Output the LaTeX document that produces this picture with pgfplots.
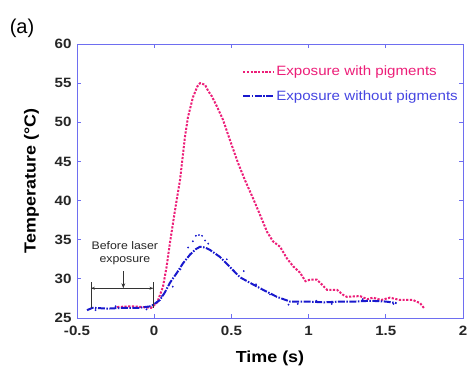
\documentclass[border=0pt]{standalone}
\usepackage{pgfplots}
\pgfplotsset{compat=1.18}
\usepackage{fontspec}
\setmainfont{Liberation Sans}
\newfontfamily\stretchfont[FakeStretch=1.12]{Liberation Sans}
\usetikzlibrary{arrows.meta}
\definecolor{pinkc}{RGB}{236,30,120}
\definecolor{bluec}{RGB}{25,25,205}
\definecolor{bluetxt}{RGB}{70,70,225}
\definecolor{axisc}{RGB}{110,110,240}
\begin{document}
\begin{tikzpicture}
\useasboundingbox (-77bp,-50bp) rectangle (391bp,318bp);
\begin{axis}[
  scale only axis,
  width=386bp, height=274bp,
  at={(0,0)}, anchor=south west,
  xmin=-0.5, xmax=2, ymin=25, ymax=60,
  xtick={-0.5,0,0.5,1,1.5,2},
  xticklabels={-0.5,0,0.5,1,1.5,2},
  ytick={25,30,35,40,45,50,55,60},
  tick align=inside,
  major tick length=4bp,
  axis line style={axisc, line width=0.9pt},
  every tick/.style={axisc, line width=0.9pt},
  /pgf/number format/assume math mode=true,
  ticklabel style={font=\stretchfont\bfseries\fontsize{13.5bp}{15bp}\selectfont, text=black!85},
  xticklabel style={yshift=-5bp},
  yticklabel style={xshift=-2bp},
  xlabel={\stretchfont\bfseries\fontsize{16bp}{18bp}\selectfont Time (s)},
  ylabel={\stretchfont\bfseries\fontsize{16bp}{18bp}\selectfont Temperature (\textdegree C)},
  xlabel style={yshift=-8bp},
  ylabel style={yshift=9bp},
  legend style={at={(1.0,0.935)}, anchor=north east, draw=none, fill=none,
    font=\stretchfont\fontsize{13.5bp}{15bp}\selectfont, row sep=9bp,
    legend cell align=left},
  legend image code/.code={\draw[#1] (0bp,0bp) -- (30bp,0bp);},
]
\addplot[pinkc, line width=2pt, dash pattern=on 2.2pt off 1.5pt] coordinates {
(-0.24,26.4) (-0.15,26.5) (-0.08,26.4) (-0.02,26.3) (0.02,27.0) (0.057,29.0)
(0.08,31.5) (0.102,34.6) (0.135,38.8) (0.167,42.6) (0.199,48.1) (0.219,50.7)
(0.251,53.2) (0.28,54.6) (0.297,55.0) (0.329,54.8) (0.35,54.0) (0.374,53.3)
(0.407,52.0) (0.446,50.3) (0.491,47.7) (0.543,44.8) (0.588,42.6) (0.64,40.3)
(0.685,38.2) (0.731,36.0) (0.769,34.8) (0.815,34.1) (0.86,32.6) (0.90,31.6)
(0.944,30.8) (0.98,29.7) (1.009,29.9) (1.054,29.9) (1.09,29.2) (1.119,28.6)
(1.184,28.6) (1.22,28.0) (1.248,27.7) (1.333,27.8) (1.38,27.4) (1.417,27.6)
(1.47,27.3) (1.527,27.6) (1.592,27.3) (1.676,27.3) (1.722,26.9) (1.75,26.2)
};
\addlegendentry{\textcolor{pinkc}{Exposure with pigments}}
\addplot[bluec, line width=2pt, dash pattern=on 7pt off 1.5pt on 1.5pt off 1.5pt] coordinates {
(-0.435,26.0) (-0.40,26.3) (-0.30,26.2) (-0.20,26.3) (-0.10,26.3) (-0.02,26.5)
(0.037,27.3) (0.07,28.3) (0.102,29.5) (0.148,30.8) (0.187,32.0) (0.232,33.1)
(0.27,33.8) (0.297,34.1) (0.33,34.0) (0.361,33.7) (0.426,32.8) (0.491,31.5)
(0.556,30.2) (0.62,29.5) (0.705,28.6) (0.795,27.7) (0.88,27.1) (0.99,27.1)
(1.10,27.0) (1.2,27.1) (1.3,27.1) (1.4,27.2) (1.5,27.1) (1.57,26.9)
};
\addlegendentry{\textcolor{bluetxt}{Exposure without pigments}}
\addplot[only marks, mark=*, mark size=0.7pt, bluec, forget plot] coordinates {
(0.27,35.5) (0.29,35.6) (0.31,35.5) (0.25,34.8) (0.33,34.9) (0.35,34.5)
(0.22,34.0) (0.17,31.2) (0.12,29.0) (0.47,32.5) (0.58,31.0) (0.66,29.3)
(0.75,28.0) (0.87,26.7) (0.93,26.8) (1.05,27.2) (1.15,26.8) (1.35,27.4)
(1.55,26.8) (-0.38,26.0) (-0.25,26.5) (-0.05,26.1) (0.05,27.8)
};
% annotation
\draw[black!80, line width=0.6pt] (axis cs:-0.41,26.3) -- (axis cs:-0.41,29.6);
\draw[black!80, line width=0.6pt] (axis cs:-0.005,26.3) -- (axis cs:-0.005,29.6);
\draw[black!80, line width=0.6pt, {Stealth[length=4bp,open]}-{Stealth[length=4bp,open]}] (axis cs:-0.41,28.8) -- (axis cs:-0.005,28.8);
\draw[black!80, line width=0.6pt, -{Stealth[length=5bp]}] (axis cs:-0.2,31.0) -- (axis cs:-0.2,28.8);
\node[font=\stretchfont\fontsize{11bp}{13.5bp}\selectfont, text=black!85, align=center, inner sep=0pt]
  at (axis cs:-0.19,33.3) {Before laser\\exposure};
\end{axis}
\node[font=\fontsize{20bp}{22bp}\selectfont, anchor=center] at (-55bp,290bp) {(a)};
\end{tikzpicture}
\end{document}
